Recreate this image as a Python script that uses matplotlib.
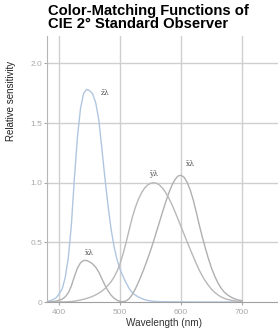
import numpy as np
import matplotlib
matplotlib.use("Agg")
import matplotlib.pyplot as plt

# CIE 1931 2-degree colour matching functions, 5 nm steps (380-700 nm)
wavelength = list(range(380, 705, 5))
x_bar = [0.0014, 0.0022, 0.0042, 0.0077, 0.0143, 0.0232, 0.0435, 0.0776, 0.1344,
         0.2148, 0.2839, 0.3285, 0.3483, 0.3481, 0.3362, 0.3187, 0.2908, 0.2511,
         0.1954, 0.1421, 0.0956, 0.0580, 0.0320, 0.0147, 0.0049, 0.0024, 0.0093,
         0.0291, 0.0633, 0.1096, 0.1655, 0.2258, 0.2904, 0.3597, 0.4335, 0.5121,
         0.5945, 0.6784, 0.7621, 0.8425, 0.9163, 0.9786, 1.0263, 1.0567, 1.0622,
         1.0456, 1.0026, 0.9384, 0.8545, 0.7514, 0.6424, 0.5419, 0.4479, 0.3608,
         0.2835, 0.2187, 0.1649, 0.1212, 0.0874, 0.0636, 0.0468, 0.0329, 0.0227,
         0.0158, 0.0114]
y_bar = [0.0000, 0.0001, 0.0001, 0.0002, 0.0004, 0.0006, 0.0012, 0.0022, 0.0040,
         0.0073, 0.0116, 0.0168, 0.0230, 0.0298, 0.0380, 0.0480, 0.0600, 0.0739,
         0.0910, 0.1126, 0.1390, 0.1693, 0.2080, 0.2586, 0.3230, 0.4073, 0.5030,
         0.6082, 0.7100, 0.7932, 0.8620, 0.9149, 0.9540, 0.9803, 0.9950, 1.0000,
         0.9950, 0.9786, 0.9520, 0.9154, 0.8700, 0.8163, 0.7570, 0.6949, 0.6310,
         0.5668, 0.5030, 0.4412, 0.3810, 0.3210, 0.2650, 0.2170, 0.1750, 0.1382,
         0.1070, 0.0816, 0.0610, 0.0446, 0.0320, 0.0232, 0.0170, 0.0119, 0.0082,
         0.0057, 0.0041]
z_bar = [0.0065, 0.0106, 0.0201, 0.0362, 0.0679, 0.1102, 0.2074, 0.3713, 0.6456,
         1.0391, 1.3856, 1.6230, 1.7471, 1.7826, 1.7721, 1.7441, 1.6692, 1.5281,
         1.2876, 1.0419, 0.8130, 0.6162, 0.4652, 0.3533, 0.2720, 0.2123, 0.1582,
         0.1117, 0.0783, 0.0573, 0.0422, 0.0298, 0.0203, 0.0134, 0.0088, 0.0058,
         0.0039, 0.0028, 0.0021, 0.0018, 0.0017, 0.0014, 0.0011, 0.0010, 0.0008,
         0.0006, 0.0003, 0.0002, 0.0002, 0.0001, 0.0001, 0.0000, 0.0000, 0.0000,
         0.0000, 0.0000, 0.0000, 0.0000, 0.0000, 0.0000, 0.0000, 0.0000, 0.0000,
         0.0000, 0.0000]

x_ticks = [400, 500, 600, 700]
y_ticks = [0, 0.5, 1.0, 1.5, 2.0]
y_tick_labels = ["0", "0.5", "1.0", "1.5", "2.0"]

plt.rcParams['font.family'] = ['Liberation Sans', 'DejaVu Sans']

fig = plt.figure(figsize=(2.78, 3.35), dpi=100)
ax = fig.add_axes([0.169, 0.0985, 0.831, 0.794])

grid_c = '#cfcfcf'
for xv in x_ticks:
    ax.axvline(xv, color=grid_c, lw=1.0, zorder=0)
for yv in y_ticks[1:]:
    ax.axhline(yv, color=grid_c, lw=1.0, zorder=0)

ax.plot(wavelength, z_bar, color='#b0c6e0', lw=1.0)
ax.plot(wavelength, x_bar, color='#b0b0b0', lw=1.0)
ax.plot(wavelength, y_bar, color='#b8b8b8', lw=1.0)

lab = dict(fontsize=5.5, color='#555555', ha='center', va='center',
           family=['DejaVu Serif'])
ax.text(475, 1.75, 'z\u0304\u03bb', **lab)
ax.text(449, 0.41, 'x\u0304\u03bb', **lab)
ax.text(555, 1.07, 'y\u0304\u03bb', **lab)
ax.text(616, 1.16, 'x\u0304\u03bb', **lab)

ax.set_xlim(380, 759)
ax.set_ylim(0, 2.23)
ax.set_xticks(x_ticks)
ax.set_yticks(y_ticks)
ax.set_yticklabels(y_tick_labels)
ax.tick_params(axis='both', labelsize=6, colors='#a8a8a8', length=2, width=0.8)
ax.tick_params(axis='y', pad=1.5)
ax.tick_params(axis='x', pad=3)
for s in ['top', 'right']:
    ax.spines[s].set_visible(False)
ax.spines['left'].set_color('#b5b5b5')
ax.spines['bottom'].set_color('#a0a0a0')

fig.text(0.172, 0.988, 'Color-Matching Functions of\nCIE 2\u00b0 Standard Observer',
         ha='left', va='top', fontsize=10.6, fontweight='bold', linespacing=0.92)
fig.text(0.04, 0.70, 'Relative sensitivity', rotation=90, ha='center', va='center',
         fontsize=7, color='#222222')
fig.text(0.59, 0.036, 'Wavelength (nm)', ha='center', va='center',
         fontsize=7.2, color='#333333')

fig.savefig('out.png', dpi=100)
